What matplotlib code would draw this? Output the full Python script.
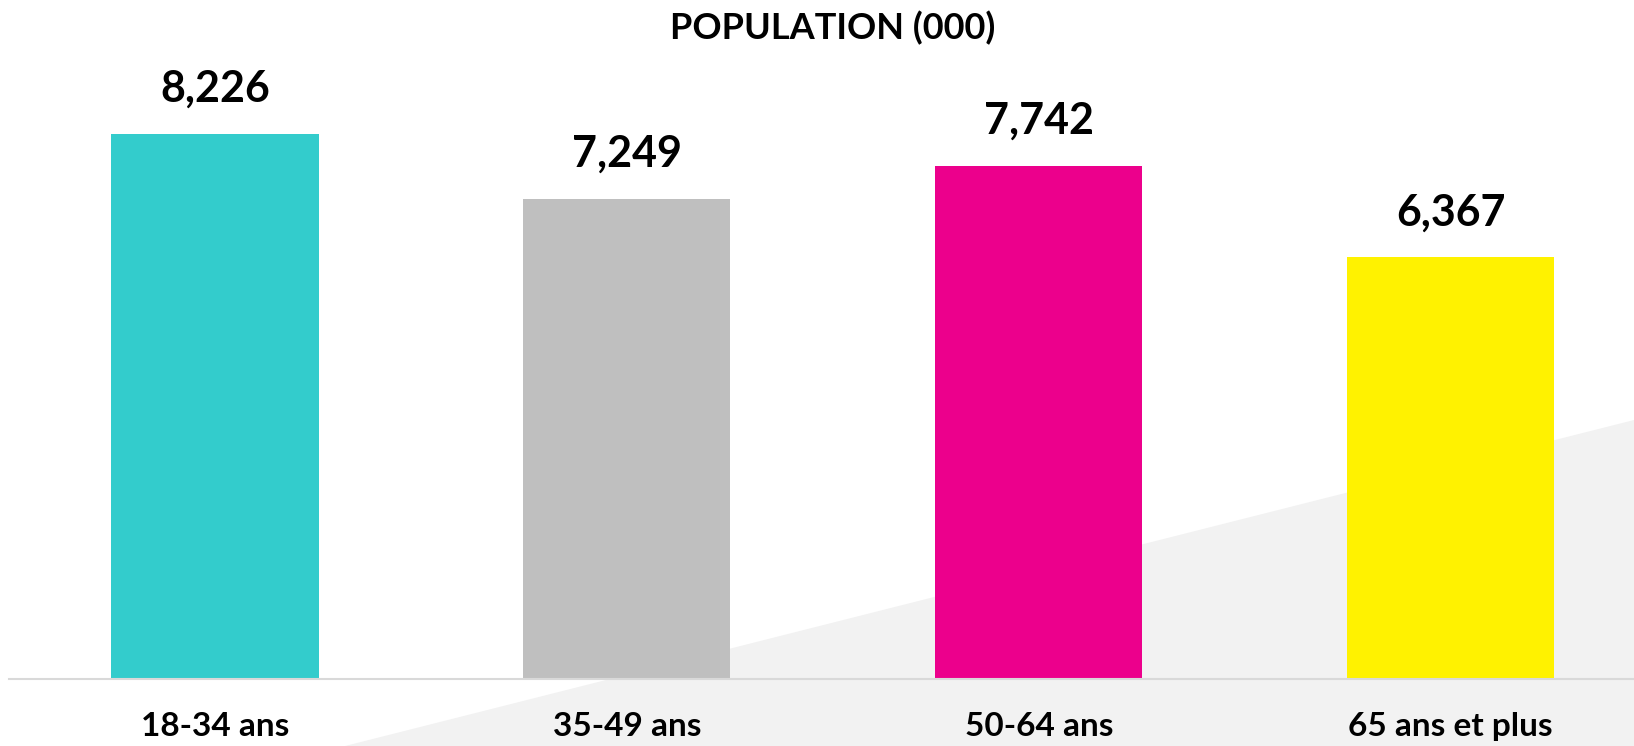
import matplotlib
matplotlib.use("Agg")
import matplotlib.pyplot as plt
from matplotlib.patches import Polygon

# ── Data ──────────────────────────────────────────────────────────────────────
categories = ["18-34 ans", "35-49 ans", "50-64 ans", "65 ans et plus"]
population = [8226, 7249, 7742, 6367]
bar_colors = ["#33CCCC", "#BFBFBF", "#EC008C", "#FFF200"]

plt.rcParams.update({
    "font.family": ["Lato", "DejaVu Sans"],
    "font.weight": "bold",
})

W, H = 1634, 746
fig = plt.figure(figsize=(W / 100, H / 100), dpi=100)
fig.patch.set_facecolor("white")

# light grey wedge in the lower-right corner, behind everything
wedge = Polygon([(345 / W, 0), (1.0, (H - 420) / H), (1.0, 0)],
                closed=True, transform=fig.transFigure,
                facecolor="#F2F2F2", edgecolor="none", zorder=-5)
fig.patches.append(wedge)

# axes: baseline at 679 px from top, 0.06625 px per unit
base = (H - 679) / H
ymax = 9000
ax_h = ymax * 0.06625 / H
ax = fig.add_axes([9 / W, base, 1 - 9 / W, ax_h])
ax.patch.set_alpha(0)

x = range(len(categories))
ax.bar(x, population, width=0.503, color=bar_colors, zorder=2)
ax.set_xlim(-0.5, 3.445)
ax.set_ylim(0, ymax)

for xi, v in zip(x, population):
    ax.annotate(f"{v:,}", (xi, v), xytext=(0, 18), textcoords="offset points",
                ha="center", va="bottom", fontsize=31, fontweight="bold",
                color="black")

for s in ("top", "left", "right"):
    ax.spines[s].set_visible(False)
ax.spines["bottom"].set_color("#D9D9D9")
ax.spines["bottom"].set_linewidth(1.5)
ax.set_yticks([])
ax.set_xticks(list(x))
ax.set_xticklabels(categories, fontsize=24, fontweight="bold")
ax.tick_params(axis="x", length=0, pad=24)

fig.text(833 / W, 1 - 28 / H, "POPULATION (000)", ha="center", va="center",
         fontsize=26, fontweight="bold", color="black")

fig.savefig("out.png", dpi=100, facecolor="white")
